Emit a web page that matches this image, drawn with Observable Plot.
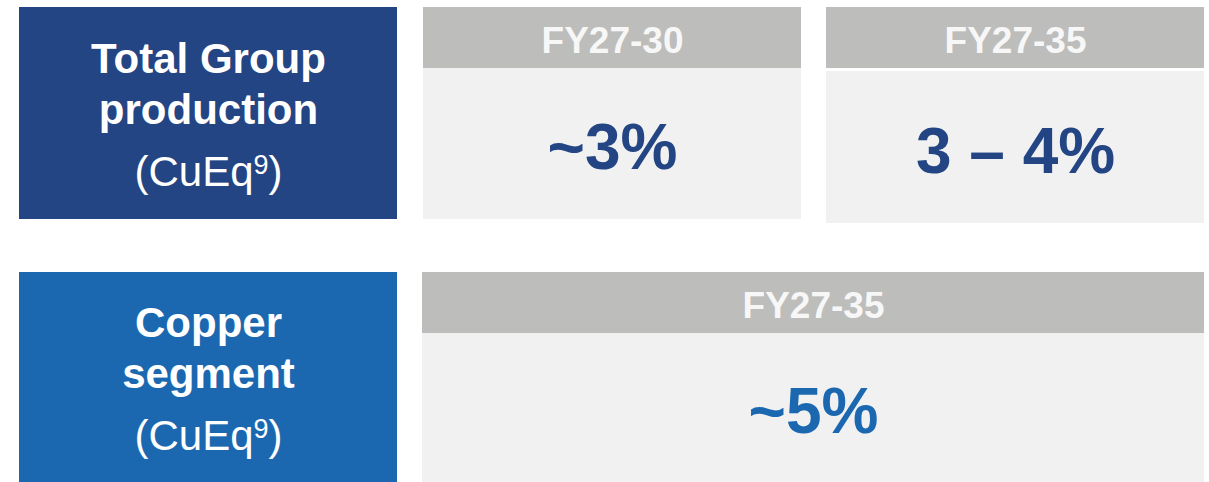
<!DOCTYPE html>
<html><head><meta charset="utf-8">
<script src="https://cdn.jsdelivr.net/npm/d3@7"></script>
<script src="https://cdn.jsdelivr.net/npm/@observablehq/plot@0.6"></script>
<style>html,body{margin:0;padding:0;background:#fff;overflow:hidden}</style>
</head><body><div id="chart"></div>
<script>
// ---- data ----
const rowLabels = ["Total Group\nproduction", "Copper\nsegment"];
const rowUnits = ["(CuEq9)", "(CuEq9)"];
const periods = ["FY27-30", "FY27-35", "FY27-35"];
const growth = ["~3%", "3 – 4%", "~5%"];
const panelRow = [0, 0, 1];

// ---- layout & style (kept apart from the data) ----
const W = 1209, H = 482;
const rowBox = [{x1: 19, x2: 397, y1: 7, y2: 219}, {x1: 19, x2: 397, y1: 272, y2: 482}];
const rowFill = ["#234584", "#1b68b1"];
const panelBox = [
  {x1: 423, x2: 801, y1: 7, yh: 68, yb: 68, y2: 219},
  {x1: 826, x2: 1204, y1: 7, yh: 68, yb: 71, y2: 223},
  {x1: 422, x2: 1204, y1: 272, yh: 333, yb: 333, y2: 482}
];
const headFill = "#bdbdbb", bodyFill = "#f1f1f1", headText = "#f7f7f7";
const FONT = "'Liberation Sans', Arial, Helvetica, sans-serif";

const rows = rowLabels.map((label, i) => ({label, unit: rowUnits[i], fill: rowFill[i], ...rowBox[i]}));
const panels = periods.map((period, i) => ({period, value: growth[i], color: rowFill[panelRow[i]], ...panelBox[i]}));

const cx = d => (d.x1 + d.x2) / 2;
const cy = d => (d.y1 + d.y2) / 2;

const svg = Plot.plot({
  width: W, height: H,
  margin: 0,
  x: {type: "identity", axis: null},
  y: {type: "identity", axis: null},
  color: {type: "identity"},
  style: {fontFamily: FONT, background: "#ffffff", overflow: "visible"},
  marks: [
    Plot.rect(rows, {x1: "x1", x2: "x2", y1: "y1", y2: "y2", fill: "fill"}),
    Plot.rect(panels, {x1: "x1", x2: "x2", y1: "y1", y2: "yh", fill: headFill}),
    Plot.rect(panels, {x1: "x1", x2: "x2", y1: "yb", y2: "y2", fill: bodyFill}),
    Plot.text(rows, {x: cx, y: d => cy(d) + 10.5, text: "label", lineAnchor: "bottom", lineHeight: 1.22,
      fontSize: 42, fontWeight: "bold", fill: "white", textAnchor: "middle"}),
    Plot.text(rows, {x: cx, y: d => cy(d) + 72.5, text: "unit", lineAnchor: "bottom",
      fontSize: 42, fill: "white", textAnchor: "middle"}),
    Plot.text(panels, {x: cx, y: d => (d.y1 + d.yh) / 2 + 14.5, text: "period", lineAnchor: "bottom",
      fontSize: 37, fontWeight: "bold", fill: headText, textAnchor: "middle"}),
    Plot.text(panels, {x: cx, y: d => (d.yb + d.y2) / 2 + 25, text: "value", lineAnchor: "bottom",
      fontSize: 64, fontWeight: "bold", fill: "color", textAnchor: "middle"})
  ]
});

// superscript footnote marker in "(CuEq9)"
d3.select(svg).selectAll("text")
  .filter(function () { return this.textContent === "(CuEq9)"; })
  .each(function () {
    const t = d3.select(this);
    t.text(null);
    t.append("tspan").text("(CuEq");
    t.append("tspan").attr("dy", -12).attr("font-size", 27).text("9");
    t.append("tspan").attr("dy", 12).text(")");
  });

document.getElementById("chart").appendChild(svg);
</script>
</body></html>
